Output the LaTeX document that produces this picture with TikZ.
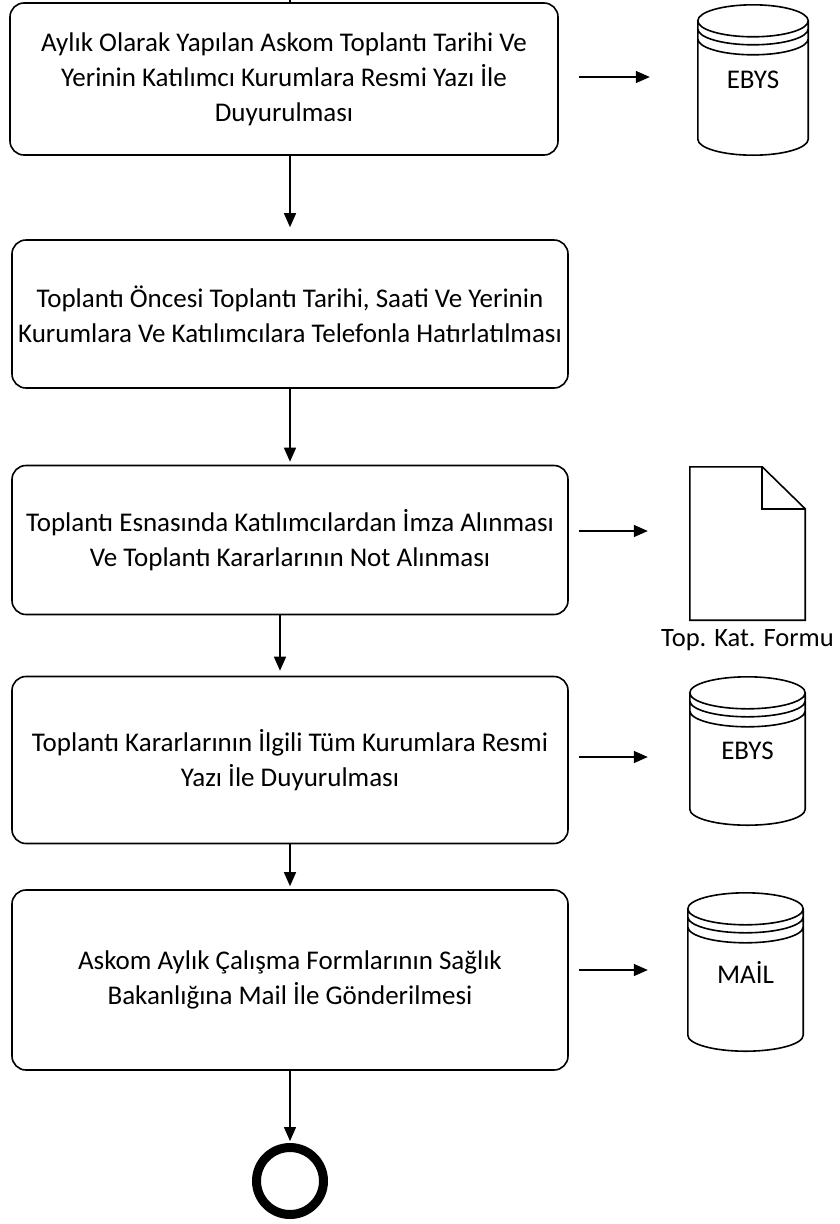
\documentclass[tikz,border=0pt]{standalone}
\usepackage{fontspec}
\setmainfont{Carlito}
\usetikzlibrary{arrows.meta,calc}

% cylinder (data store) drawn around an empty node
\newcommand\storeshape[1]{%
  \draw[outline] let \p1=(#1.north west), \p2=(#1.south east),
      \n1={(\x2-\x1)/2}, \n2={(\x1+\x2)/2} in
    (\n2,\y1-16pt) ellipse [x radius=\n1, y radius=16pt]
    (\x1,\y1-24pt) arc [start angle=180, end angle=360, x radius=\n1, y radius=16pt]
    (\x1,\y1-34pt) arc [start angle=180, end angle=360, x radius=\n1, y radius=16pt]
    (\x1,\y1-16pt) -- (\x1,\y2+16pt)
      arc [start angle=180, end angle=360, x radius=\n1, y radius=16pt]
      -- (\x2,\y1-16pt);
}

\begin{document}
\begin{tikzpicture}[x=1pt,y=1pt,
  outline/.style={line width=1.6pt},
  stepbox/.style={draw, line width=1.6pt, rounded corners=14pt, inner sep=0pt,
    align=center, font=\fontsize{27}{35}\selectfont},
  store/.style={inner sep=0pt, font=\fontsize{27}{30}\selectfont},
  flow/.style={line width=1.4pt, -{Triangle[length=14pt,width=12pt]}}]
\useasboundingbox (0,0) rectangle (840,-1224);

% process steps
\node[stepbox, minimum width=548pt, minimum height=152pt] (b1) at (284,-79)
  {Aylık Olarak Yapılan Askom Toplantı Tarihi Ve\\Yerinin Katılımcı Kurumlara Resmi Yazı İle\\Duyurulması};
\node[stepbox, minimum width=556pt, minimum height=148pt] (b2) at (290,-314)
  {Toplantı Öncesi Toplantı Tarihi, Saati Ve Yerinin\\Kurumlara Ve Katılımcılara Telefonla Hatırlatılması};
\node[stepbox, minimum width=556pt, minimum height=149pt] (b3) at (290,-540)
  {Toplantı Esnasında Katılımcılardan İmza Alınması\\Ve Toplantı Kararlarının Not Alınması};
\node[stepbox, minimum width=556pt, minimum height=167pt] (b4) at (290,-760)
  {Toplantı Kararlarının İlgili Tüm Kurumlara Resmi\\Yazı İle Duyurulması};
\node[stepbox, minimum width=556pt, minimum height=180pt] (b5) at (290,-980)
  {Askom Aylık Çalışma Formlarının Sağlık\\Bakanlığına Mail İle Gönderilmesi};

% end event
\node[circle, draw, line width=9pt, minimum size=67pt, inner sep=0pt] (end) at (290,-1181) {};

% data stores
\node[store, minimum width=110pt, minimum height=150pt] (d1) at (753,-80) {EBYS};
\node[store, minimum width=115pt, minimum height=148pt] (d2) at (747.5,-751) {EBYS};
\node[store, minimum width=115pt, minimum height=158pt] (d3) at (745.5,-972) {MAİL};
\storeshape{d1}
\storeshape{d2}
\storeshape{d3}

% document with folded corner
\node[inner sep=0pt, minimum width=115pt, minimum height=153pt] (f1) at (747.5,-543.5) {};
\draw[outline, line join=miter]
  (f1.north west) -- ([xshift=-43pt]f1.north east) -- ([yshift=-42pt]f1.north east)
  -- (f1.south east) -- (f1.south west) -- cycle;
\draw[outline]
  ([xshift=-43pt]f1.north east) -- ([xshift=-43pt,yshift=-42pt]f1.north east)
  -- ([yshift=-42pt]f1.north east);
\node[font=\fontsize{26.5}{30}\selectfont, anchor=north, inner sep=0pt] (f1l)
  at ([yshift=-9pt]f1.south) {Top. Kat. Formu};

% incoming line from the previous page
\coordinate (in) at (290,0);
\draw[line width=1.4pt] (in) -- (in |- b1.north);

% sequence flow
\draw[flow, shorten >=12pt] (b1.south -| b2.north) -- (b2.north);
\draw[flow, shorten >=3pt] (b2.south) -- (b3.north);
\draw[flow, shorten >=5pt] ([xshift=-10pt]b3.south) -- ([xshift=-10pt]b4.north);
\draw[flow, shorten >=3pt] (b4.south) -- (b5.north);
\draw[flow, shorten >=2pt] (b5.south) -- (end.north);

% outputs of the steps
\draw[flow, shorten <=20pt, shorten >=48pt] ([yshift=2pt]b1.east) -- ([yshift=2pt]b1.east -| d1.west);
\draw[flow, shorten <=10pt, shorten >=42pt] ([yshift=9pt]b3.east) -- ([yshift=9pt]b3.east -| f1.west);
\draw[flow, shorten <=10pt, shorten >=42pt] ([yshift=3pt]b4.east) -- ([yshift=3pt]b4.east -| d2.west);
\draw[flow, shorten <=10pt, shorten >=40pt] ([yshift=10pt]b5.east) -- ([yshift=10pt]b5.east -| d3.west);
\end{tikzpicture}
\end{document}
